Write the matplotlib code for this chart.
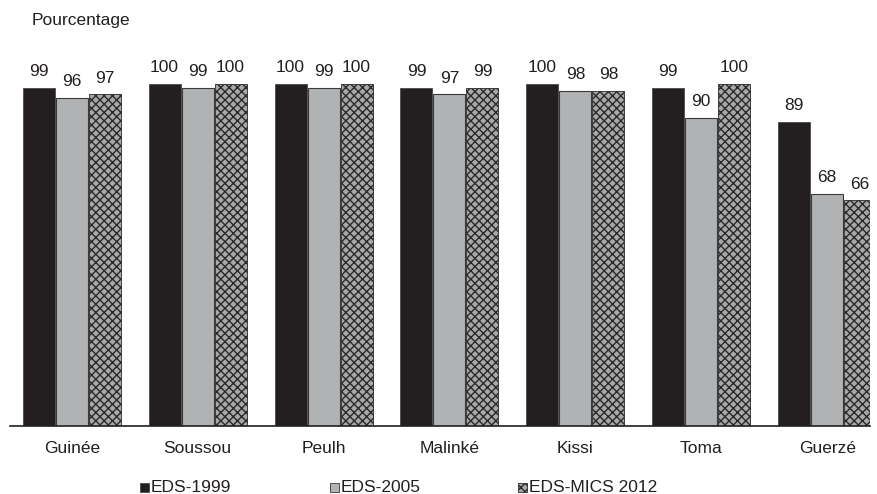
import matplotlib
matplotlib.use("Agg")
import matplotlib.pyplot as plt
import numpy as np
from matplotlib.patches import Rectangle

plt.rcParams['font.family'] = ['Liberation Sans', 'DejaVu Sans']
plt.rcParams['hatch.linewidth'] = 1.0

categories = ["Guinée", "Soussou", "Peulh", "Malinké", "Kissi", "Toma", "Guerzé"]
eds1999 = [99, 100, 100, 99, 100, 99, 89]
eds2005 = [96, 99, 99, 97, 98, 90, 68]
eds2012 = [97, 100, 100, 99, 98, 100, 66]
series_names = ["EDS-1999", "EDS-2005", "EDS-MICS 2012"]

TXT = '#231f20'
fig = plt.figure(figsize=(8.78, 4.94), dpi=100)
ax = fig.add_axes([10/878, 68/494, 860/878, 376/494])

x = np.arange(len(categories))
w = 0.262
styles = [dict(color='#231f20', edgecolor='#4a4a4a', linewidth=0.6),
          dict(color='#b1b2b4', edgecolor='#3a3a3a', linewidth=0.8),
          dict(color='#a8a8a8', edgecolor='#2a2a2a', hatch='xxxx', linewidth=0.6)]
all_bars = []
for i, vals in enumerate((eds1999, eds2005, eds2012)):
    bars = ax.bar(x + (i - 1) * w, vals, w * 0.97, **styles[i])
    all_bars.append((bars, vals))

for bars, vals in all_bars:
    for r, v in zip(bars, vals):
        ax.text(r.get_x() + r.get_width()/2, v + 2.6, str(v), ha='center', va='bottom',
                fontsize=12.5, color=TXT)

ax.set_xlim(-0.49, 6.34)
ax.set_ylim(0, 110)
ax.set_xticks(x)
ax.set_xticklabels(categories, fontsize=12.5, color=TXT)
ax.tick_params(axis='x', length=0, pad=11)
ax.set_yticks([])
for s in ['left', 'right', 'top']:
    ax.spines[s].set_visible(False)
ax.spines['bottom'].set_color(TXT)
ax.spines['bottom'].set_linewidth(1.2)

fig.text(32/878, 1 - 20/494, "Pourcentage", fontsize=12.5, color=TXT, va='center', ha='left')

# legend
leg_x = [140, 330, 518]
leg_y = 487
for i, name in enumerate(series_names):
    st = styles[i]
    rect = Rectangle((leg_x[i]/878, 1 - (leg_y + 4.5)/494), 9/878, 9/494,
                     transform=fig.transFigure, facecolor=st['color'], edgecolor=st['edgecolor'],
                     hatch=st.get('hatch'), linewidth=0.6)
    fig.patches.append(rect)
    fig.text((leg_x[i] + 11)/878, 1 - leg_y/494, name, fontsize=12.5, color=TXT,
             va='center', ha='left')

fig.savefig("out.png", dpi=100)
